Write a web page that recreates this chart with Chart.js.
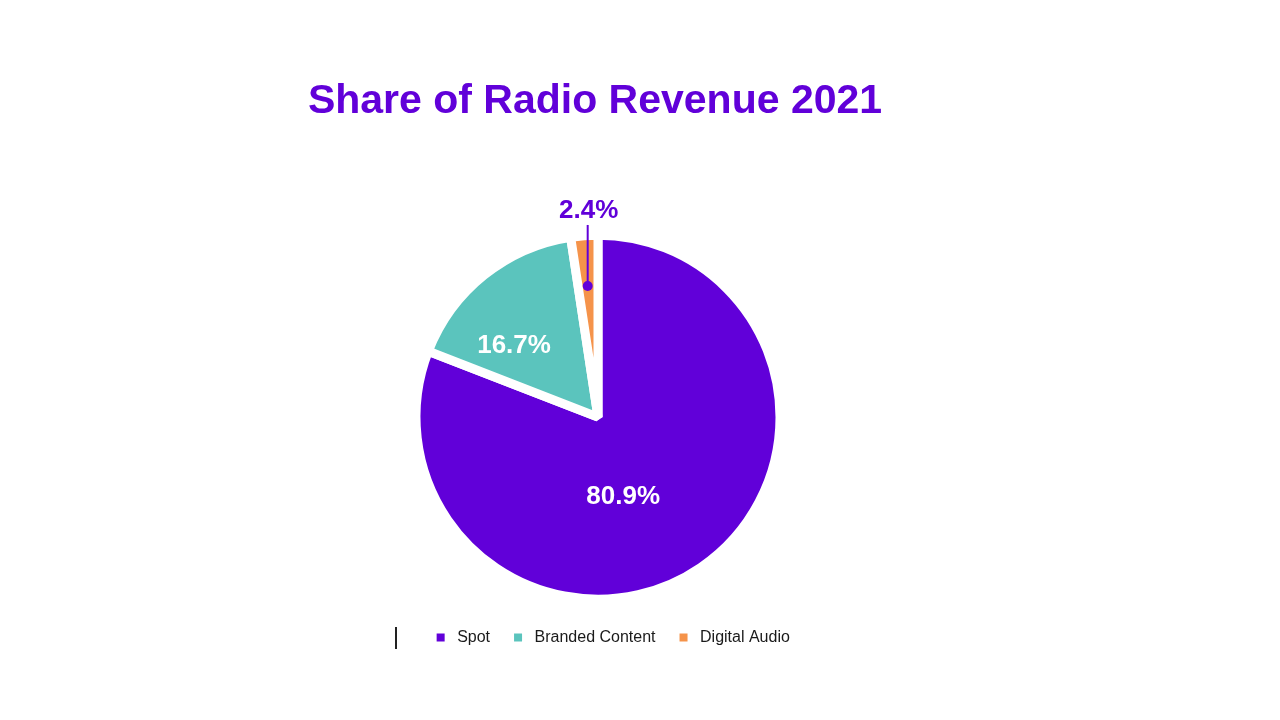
<!DOCTYPE html>
<html>
<head>
<meta charset="utf-8">
<script src="https://cdn.jsdelivr.net/npm/chart.js@4"></script>
<style>
 html, body { margin: 0; padding: 0; background: #fff; }
 body { width: 1280px; height: 720px; position: relative; overflow: hidden; }
 #wrap { position: absolute; left: 298px; top: 0; width: 600px; height: 720px; }
 /* stray text cursor visible in the original slide */
 #caret { position: absolute; left: 395px; top: 627px; width: 2px; height: 22px; background: #222; }
</style>
</head>
<body>
<div id="wrap"><canvas id="revChart"></canvas></div>
<div id="caret"></div>
<script>
/* ── DATA ───────────────────────────────────────────────── */
const categories = ['Spot', 'Branded Content', 'Digital Audio'];
const shares = [80.9, 16.7, 2.4];
const sliceColors = ['#6100d9', '#5bc4bd', '#f5934a'];

const PURPLE = '#6100d9';
const FONT = '"Liberation Sans", Arial, sans-serif';

/* where each % label sits inside its slice: t = fraction along the arc, f = fraction of radius */
const labelSpots = [
 { t: 0.558, f: 0.46, color: '#fff' },
 { t: 0.319, f: 0.606, color: '#fff' },
 { t: 0.48, f: 0.723, color: PURPLE, callout: true }
];

/* ── PLUGINS ────────────────────────────────────────────── */
const sliceLabels = {
 id: 'sliceLabels',
 afterDatasetsDraw(chart) {
 const { ctx } = chart;
 const meta = chart.getDatasetMeta(0);
 ctx.save();
 ctx.font = `bold 26px ${FONT}`;
 ctx.textAlign = 'center';
 ctx.textBaseline = 'middle';
 meta.data.forEach((arc, i) => {
 const p = arc.getProps(['x', 'y', 'startAngle', 'endAngle', 'outerRadius'], true);
 const spot = labelSpots[i];
 const a = p.startAngle + spot.t * (p.endAngle - p.startAngle);
 const px = p.x + Math.cos(a) * p.outerRadius * spot.f;
 const py = p.y + Math.sin(a) * p.outerRadius * spot.f;
 const txt = shares[i].toFixed(1) + '%';
 ctx.fillStyle = spot.color;
 if (spot.callout) {
 ctx.strokeStyle = spot.color;
 ctx.lineWidth = 2;
 ctx.beginPath();
 ctx.moveTo(px, py);
 ctx.lineTo(px, py - 61);
 ctx.stroke();
 ctx.beginPath();
 ctx.arc(px, py, 5, 0, Math.PI * 2);
 ctx.fill();
 ctx.fillText(txt, px + 1, py - 75);
 } else {
 ctx.fillText(txt, px, py);
 }
 });
 ctx.restore();
 }
};

// in the slide the legend sits a bit right of the pie's centre, the title a bit left
const boxNudge = {
 id: 'boxNudge',
 afterLayout(chart) {
 chart.legend.left += 13;
 chart.legend.right += 13;
 chart.titleBlock.left -= 3;
 chart.titleBlock.right -= 3;
 }
};

/* ── CHART ──────────────────────────────────────────────── */
new Chart(document.getElementById('revChart'), {
 type: 'pie',
 data: {
 labels: categories,
 datasets: [{
 data: shares,
 backgroundColor: sliceColors,
 borderColor: '#ffffff',
 borderWidth: 9
 }]
 },
 options: {
 responsive: true,
 maintainAspectRatio: false,
 animation: false,
 radius: 182,
 layout: { padding: { top: 0, bottom: 64 } },
 plugins: {
 title: {
 display: true,
 text: 'Share of Radio Revenue 2021',
 color: PURPLE,
 font: { family: FONT, size: 41, weight: 'bold' },
 padding: { top: 77, bottom: 98.6 }
 },
 legend: {
 position: 'bottom',
 labels: {
 color: '#1a1a1a',
 font: { family: FONT, size: 16 },
 boxWidth: 17,
 boxHeight: 17,
 padding: 19.5
 }
 },
 tooltip: { enabled: false }
 }
 },
 plugins: [sliceLabels, boxNudge]
});
</script>
</body>
</html>
